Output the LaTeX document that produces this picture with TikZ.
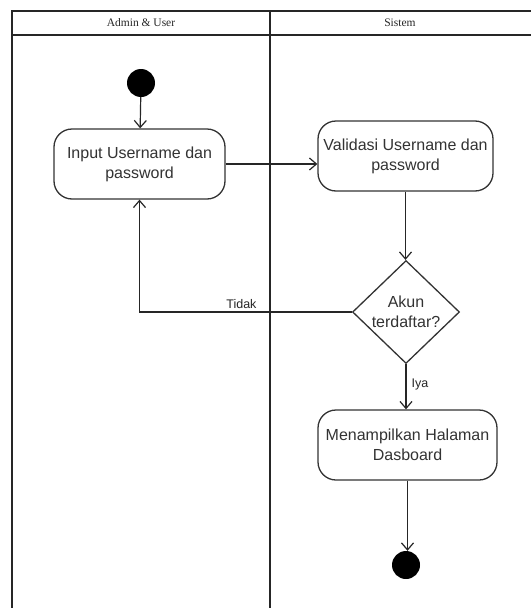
\documentclass[tikz,border=0pt]{standalone}
\usepackage{fontspec}
\setmainfont{Liberation Sans}
\newfontfamily\headfont{Liberation Serif}
\usetikzlibrary{arrows.meta,shapes.geometric}
\tikzset{
  frameline/.style={line width=2.4pt, draw=black!85},
  actbox/.style={draw=black!80, line width=1.3pt, rounded corners=18pt, align=center,
    font=\fontsize{16}{20}\selectfont, text=black!80, inner sep=0pt},
  decbox/.style={diamond, draw=black!80, line width=1.3pt, align=center, aspect=1,
    font=\fontsize{16}{20}\selectfont, text=black!80, inner sep=-4pt,
    minimum width=107pt, minimum height=103pt},
  dot/.style={circle, fill=black, inner sep=0pt, minimum size=28pt},
  flow/.style={draw=black!85, line width=1.2pt, -{Straight Barb[length=7pt,width=12pt]}},
  lbl/.style={font=\fontsize{12.5}{14}\selectfont, text=black!85, inner sep=1pt},
  head/.style={font=\headfont\fontsize{11.5}{13}\selectfont, text=black!85}
}
\begin{document}
\begin{tikzpicture}[x=1pt,y=1pt]
\useasboundingbox (0,0) rectangle (531,-608);
\fill[white] (0,0) rectangle (531,-608);
% frame
\draw[frameline] (12,-608) -- (12,-11) -- (531,-11);
\draw[frameline] (12,-35) -- (531,-35);
\draw[frameline] (270,-11) -- (270,-608);
\node[head] (h1) at (141,-23) {Admin \& User};
\node[head] (h2) at (400,-23) {Sistem};
% nodes
\node[dot] (start) at (141,-83) {};
\node[actbox, minimum width=171pt, minimum height=70pt] (input) at (139.5,-164) {Input Username dan\\password};
\node[actbox, minimum width=175pt, minimum height=70pt] (valid) at (405.5,-156) {Validasi Username dan\\password};
\node[decbox] (dec) at (406,-312) {Akun\\terdaftar?};
\node[actbox, minimum width=179pt, minimum height=70pt] (show) at (407.5,-445) {Menampilkan Halaman\\Dasboard};
\node[dot] (end) at (406,-565) {};
% connectors
\draw[flow] (start) -- (input);
\draw[flow] (input.east) -- (input.east -| valid.west);
\draw[flow] (valid.south) -- (valid.south |- dec.north);
\draw[flow] (dec.south) -- node[lbl, right, pos=0.45, xshift=4pt] (iya) {Iya} (dec.south |- show.north);
\draw[flow] (show.south) -- (show.south |- end.north);
\draw[flow] (dec.west) -- node[lbl, above, pos=0.52, yshift=2pt] (tidak) {Tidak} (input.south |- dec.west) -- (input.south);
\end{tikzpicture}
\end{document}
